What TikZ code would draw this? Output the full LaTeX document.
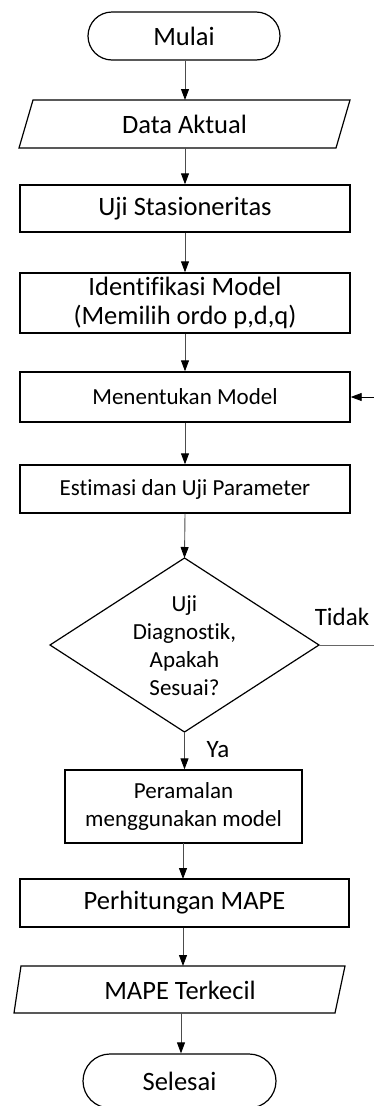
\documentclass[tikz,border=0pt]{standalone}
\usepackage{fontspec}
\setmainfont[Ligatures=NoCommon]{Carlito}
\usetikzlibrary{arrows.meta}
\begin{document}
\begin{tikzpicture}[x=1pt,y=-1pt,
  big/.style={font=\fontsize{26.5}{29.5}\selectfont},
  small/.style={font=\fontsize{23}{28}\selectfont},
  box/.style={draw=black,line width=1.4pt,rectangle,inner sep=0pt,align=center},
  term/.style={draw=black,line width=1.2pt,rectangle,rounded corners=24pt,inner sep=0pt},
  txt/.style={inner sep=0pt,align=center},
  shp/.style={draw=black,line width=1.2pt,line join=miter},
  conn/.style={draw=black!70,line width=0.9pt,-{Triangle[length=11pt,width=8pt,color=black]}},
  line/.style={draw=black!60,line width=0.9pt}]
\useasboundingbox (0,0) rectangle (374,1106);
% Mulai
\node[term,big,minimum width=192pt,minimum height=48pt] (mulai) at (184,36) {Mulai};
% Data Aktual
\draw[shp] (33,100) -- (350,100) -- (336,148) -- (19,148) -- cycle;
\node[txt,big] (data) at (184.5,124) {Data Aktual};
\coordinate (dataN) at (185,100);
\coordinate (dataS) at (185,148);
% Uji Stasioneritas
\node[box,big,minimum width=330pt,minimum height=47pt] (uji) at (185,208.5) {Uji Stasioneritas};
% Identifikasi
\node[box,big,minimum width=330pt,minimum height=60pt] (ident) at (185,303) {Identifikasi Model\\(Memilih ordo p,d,q)};
% Menentukan
\node[box,small,minimum width=330pt,minimum height=50pt] (menent) at (185,397) {Menentukan Model};
% Estimasi
\node[box,small,minimum width=330pt,minimum height=48pt] (estim) at (185,489) {Estimasi dan Uji Parameter};
% Diamond
\coordinate (dT) at (184.5,558);
\coordinate (dB) at (184.5,732);
\coordinate (dL) at (50,645);
\coordinate (dR) at (319,645);
\draw[shp] (dT) -- (dR) -- (dB) -- (dL) -- cycle;
\node[txt,small] (diag) at (184.5,646) {Uji\\Diagnostik,\\Apakah\\Sesuai?};
% Peramalan
\node[box,small,minimum width=237pt,minimum height=73pt] (peram) at (183.5,806.5) {Peramalan\\menggunakan model};
% Perhitungan MAPE
\node[box,big,minimum width=329pt,minimum height=48pt] (hitung) at (184.5,903) {Perhitungan MAPE};
% MAPE Terkecil
\draw[shp] (21,966) -- (345,966) -- (335,1013) -- (14,1013) -- cycle;
\node[txt,big] (mape) at (180,990) {MAPE Terkecil};
\coordinate (mapeN) at (183,966);
\coordinate (mapeS) at (181,1013);
% Selesai
\node[term,big,minimum width=193pt,minimum height=54pt,rounded corners=27pt] (selesai) at (179.5,1081) {Selesai};
% labels
\node[txt,font=\fontsize{25}{28}\selectfont] (tidak) at (342,617) {Tidak};
\node[txt,font=\fontsize{25}{28}\selectfont] (ya) at (218,750) {Ya};
% connectors
\draw[conn] (mulai.south -| dataN) -- (dataN);
\draw[conn] (dataS) -- (uji.north);
\draw[conn] (uji) -- (ident);
\draw[conn] (ident) -- (menent);
\draw[conn] (menent) -- (estim);
\draw[conn] (estim.south) -- (dT);
\draw[conn] (dB) -- (dB |- peram.north);
\draw[conn] (183,843) -- (183,879);
\draw[conn] (hitung.south -| mapeN) -- (mapeN);
\draw[conn] (mapeS) -- (mapeS |- selesai.north);
\coordinate (loopA) at (392,645);
\coordinate (loopB) at (392,397);
\draw[line] (dR) -- (loopA) -- (loopB);
\draw[conn,draw=black] (loopB) -- (menent.east);
\end{tikzpicture}
\end{document}
